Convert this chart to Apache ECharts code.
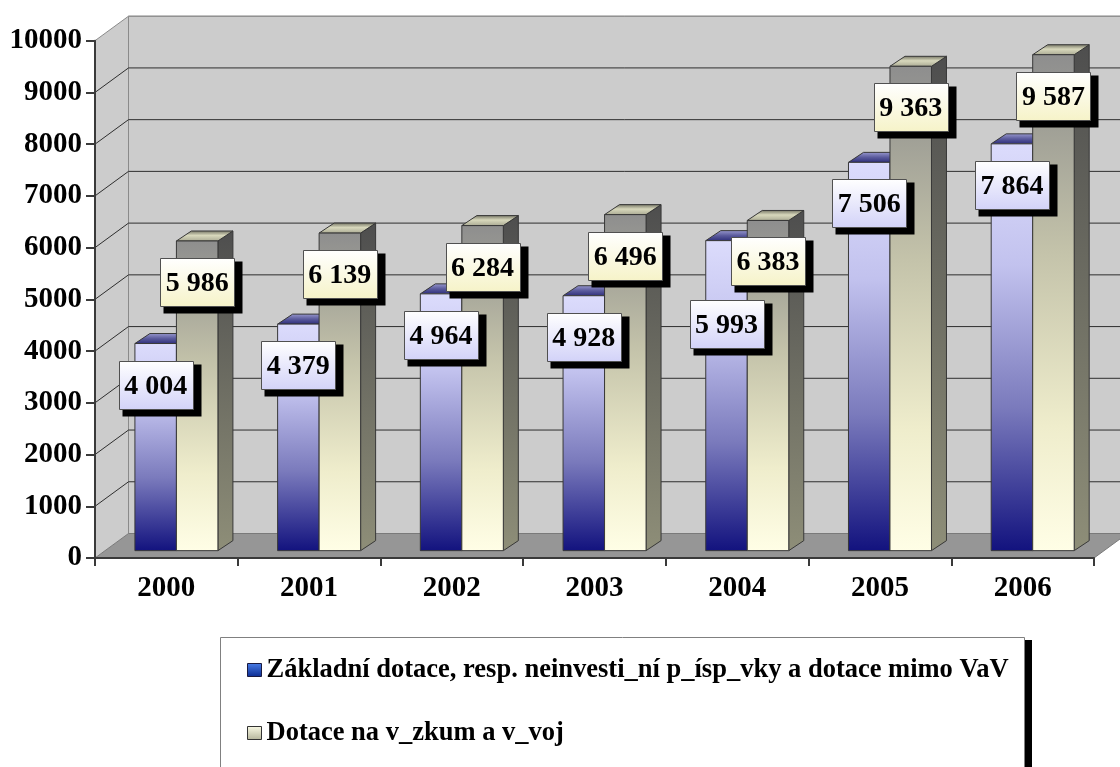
<!DOCTYPE html>
<html><head><meta charset="utf-8">
<script src="https://cdn.jsdelivr.net/npm/echarts@6/dist/echarts.min.js"></script>
<style>html,body{margin:0;padding:0;background:#fff}#c{width:1120px;height:767px}</style>
</head><body><div id="c"></div>
<script>
// ---- data ----
const years = ['2000', '2001', '2002', '2003', '2004', '2005', '2006'];
const zakladni = [4004, 4379, 4964, 4928, 5993, 7506, 7864];
const vyzkum = [5986, 6139, 6284, 6496, 6383, 9363, 9587];
const yTicks = [0, 1000, 2000, 3000, 4000, 5000, 6000, 7000, 8000, 9000, 10000];
const seriesNames = [
  'Základní dotace, resp. neinvesti_ní p_ísp_vky a dotace mimo VaV',
  'Dotace na v_zkum a v_voj'
];

// ---- rendering ----
const chart = echarts.init(document.getElementById('c'), null, {renderer: 'canvas'});
const G = echarts.graphic;
const FONT = '"Liberation Serif","Times New Roman",serif';
const DX = 33.5, DY = 24.5;      // full floor depth projection
const Z0 = 0.3;                   // bar start depth fraction
const BOX_DX = 15, BOX_DY = 10;   // bar depth projection
const BAR_W = 41.5;
const LBL_W = 74, LBL_H = 48, LBL_DROP = 41, LBL_GAP = 15;

function fmt(v) { return String(v).replace(/\B(?=(\d{3})+(?!\d))/g, ' '); }
function lg(stops) {
  return new G.LinearGradient(0, 0, 0, 1, stops.map(s => ({offset: s[0], color: s[1]})));
}

const faceStyles = [
  {
    front: () => lg([[0, '#dcdcfc'], [0.3, '#c2c2ee'], [0.65, '#7a7abc'], [1, '#12127e']]),
    side: () => lg([[0, '#5a5a9a'], [1, '#10105a']]),
    top: () => lg([[0, '#9a9ad0'], [0.5, '#5a5a9c'], [1, '#2c2c78']])
  },
  {
    front: () => lg([[0, '#8e8e8e'], [0.12, '#9c9c94'], [0.4, '#c4c3aa'], [0.75, '#efedcc'], [1, '#fffee6']]),
    side: () => lg([[0, '#4e4e4e'], [1, '#8e8e78']]),
    top: () => lg([[0, '#707060'], [0.45, '#d8d8bc'], [1, '#a8a892']])
  }
];
const labelFill = [
  () => lg([[0, '#ffffff'], [1, '#d2d2f8']]),
  () => lg([[0, '#ffffff'], [1, '#f6f3c8']])
];

function renderWalls(params, api) {
  const cs = params.coordSys;
  const x0 = cs.x, x1 = cs.x + cs.width, yt = cs.y, yb = cs.y + cs.height;
  const ch = [];
  ch.push({type: 'polygon', shape: {points: [[x0, yt], [x0 + DX, yt - DY], [x0 + DX, yb - DY], [x0, yb]]},
    style: {fill: '#cccccc'}});
  ch.push({type: 'rect', shape: {x: x0 + DX, y: yt - DY, width: cs.width + 20, height: cs.height},
    style: {fill: '#cccccc', stroke: '#8a8a8a', lineWidth: 1}});
  ch.push({type: 'polygon', shape: {points: [[x0, yb], [x1, yb], [x1 + DX, yb - DY], [x0 + DX, yb - DY]]},
    style: {fill: '#969696', stroke: '#7a7a7a', lineWidth: 1}});
  yTicks.forEach(v => {
    if (v === 0) return;
    const y = api.coord([0, v])[1];
    const top = v === yTicks[yTicks.length - 1];
    ch.push({type: 'polyline', shape: {points: [[x0, y], [x0 + DX, y - DY], [x1 + DX + 20, y - DY]]},
      style: {stroke: top ? '#8a8a8a' : '#2e2e2e', lineWidth: 1, fill: null}});
  });
  return {type: 'group', children: ch};
}

function barFront(api, i, v, s) {
  const top = api.coord([i, v]);
  const base = api.coord([i, 0]);
  const cx = top[0] + Z0 * DX;
  const xl = s === 0 ? cx - BAR_W : cx;
  return {xl: xl, xr: xl + BAR_W, yt: top[1] - Z0 * DY, yb: base[1] - Z0 * DY};
}

function makeBar(s) {
  return function (params, api) {
    const i = api.value(0), v = api.value(1);
    const f = barFront(api, i, v, s);
    const xl = f.xl, xr = f.xr, yt = f.yt, yb = f.yb;
    const st = faceStyles[s];
    const line = {stroke: '#383838', lineWidth: 1};
    return {type: 'group', children: [
      {type: 'polygon', shape: {points: [[xr, yt], [xr + BOX_DX, yt - BOX_DY], [xr + BOX_DX, yb - BOX_DY], [xr, yb]]},
        style: Object.assign({fill: st.side()}, line)},
      {type: 'polygon', shape: {points: [[xl, yt], [xr, yt], [xr + BOX_DX, yt - BOX_DY], [xl + BOX_DX, yt - BOX_DY]]},
        style: Object.assign({fill: st.top()}, line)},
      {type: 'rect', shape: {x: xl, y: yt, width: BAR_W, height: yb - yt},
        style: Object.assign({fill: st.front()}, line)}
    ]};
  };
}

function renderLabel(params, api) {
  const i = api.value(0), v = api.value(1), s = api.value(2);
  const f = barFront(api, i, v, s);
  const cx = (f.xl + f.xr) / 2;
  let top = f.yt + LBL_DROP - LBL_H / 2;
  if (s === 0) {
    // keep clear of the neighbouring label of the same year
    const o = barFront(api, i, vyzkum[i], 1);
    const otherBottom = o.yt + LBL_DROP + LBL_H / 2;
    if (top < otherBottom + LBL_GAP) top = otherBottom + LBL_GAP;
  }
  const w = LBL_W, h = LBL_H;
  const bx = Math.round(cx - w / 2) + 0.5, by = Math.round(top) + 0.5;
  return {type: 'group', children: [
    {type: 'rect', shape: {x: bx + 3, y: by + 3, width: w + 5, height: h + 4}, style: {fill: '#000'}},
    {type: 'rect', shape: {x: bx, y: by, width: w, height: h},
      style: {fill: labelFill[s](), stroke: '#505050', lineWidth: 1}},
    {type: 'text', x: cx, y: by + h / 2 + 1,
      style: {text: fmt(v), font: 'bold 28px ' + FONT, fill: '#000',
        align: 'center', verticalAlign: 'middle', textAlign: 'center', textVerticalAlign: 'middle'}}
  ]};
}

const labelData = [];
zakladni.forEach((v, i) => labelData.push([i, v, 0]));
vyzkum.forEach((v, i) => labelData.push([i, v, 1]));

chart.setOption({
  animation: false,
  backgroundColor: '#ffffff',
  grid: {left: 95, right: 26, top: 40.7, bottom: 209, containLabel: false},
  xAxis: {
    type: 'category', data: years, z: 5,
    axisLine: {show: true, lineStyle: {color: '#3a3a3a', width: 2}},
    axisTick: {show: true, length: 8, lineStyle: {color: '#3a3a3a', width: 2}},
    axisLabel: {margin: 16, fontFamily: FONT, fontWeight: 'bold', fontSize: 29, color: '#000'},
    splitLine: {show: false}
  },
  yAxis: {
    type: 'value', min: 0, max: 10000, interval: 1000, z: 5,
    axisLine: {show: true, lineStyle: {color: '#3a3a3a', width: 2}},
    axisTick: {show: true, length: 9, lineStyle: {color: '#3a3a3a', width: 2}},
    axisLabel: {margin: 13, fontFamily: FONT, fontWeight: 'bold', fontSize: 29, color: '#000',
      formatter: v => String(v)},
    splitLine: {show: false}
  },
  legend: {
    orient: 'vertical', left: 247, top: 656, z: 10, padding: 0,
    itemWidth: 14, itemHeight: 13, itemGap: 35, selectedMode: false,
    textStyle: {fontFamily: FONT, fontWeight: 'bold', fontSize: 26.5, color: '#000', lineHeight: 28},
    data: [
      {name: seriesNames[0], icon: 'rect',
        itemStyle: {color: lg([[0, '#4a7ee8'], [1, '#0a2a90']]), borderColor: '#1a1a40', borderWidth: 1}},
      {name: seriesNames[1], icon: 'rect',
        itemStyle: {color: lg([[0, '#fbfbe6'], [1, '#b4b49a']]), borderColor: '#333', borderWidth: 1}}
    ]
  },
  graphic: [
    {type: 'rect', z: 1, shape: {x: 1025, y: 640, width: 7, height: 140}, style: {fill: '#000'}},
    {type: 'rect', z: 1, shape: {x: 220.5, y: 637.5, width: 804, height: 140},
      style: {fill: '#fff', stroke: '#808080', lineWidth: 1}}
  ],
  series: [
    {type: 'custom', name: 'walls', z: 1, clip: false, silent: true,
      data: [[0, 0]], renderItem: renderWalls},
    {type: 'custom', name: seriesNames[0], z: 2, clip: false,
      itemStyle: {color: '#3a5ad0'},
      data: zakladni.map((v, i) => [i, v]), renderItem: makeBar(0)},
    {type: 'custom', name: seriesNames[1], z: 3, clip: false,
      itemStyle: {color: '#e8e8c8'},
      data: vyzkum.map((v, i) => [i, v]), renderItem: makeBar(1)},
    {type: 'custom', name: 'labels', z: 4, clip: false, silent: true,
      data: labelData, renderItem: renderLabel}
  ]
});
</script></body></html>
